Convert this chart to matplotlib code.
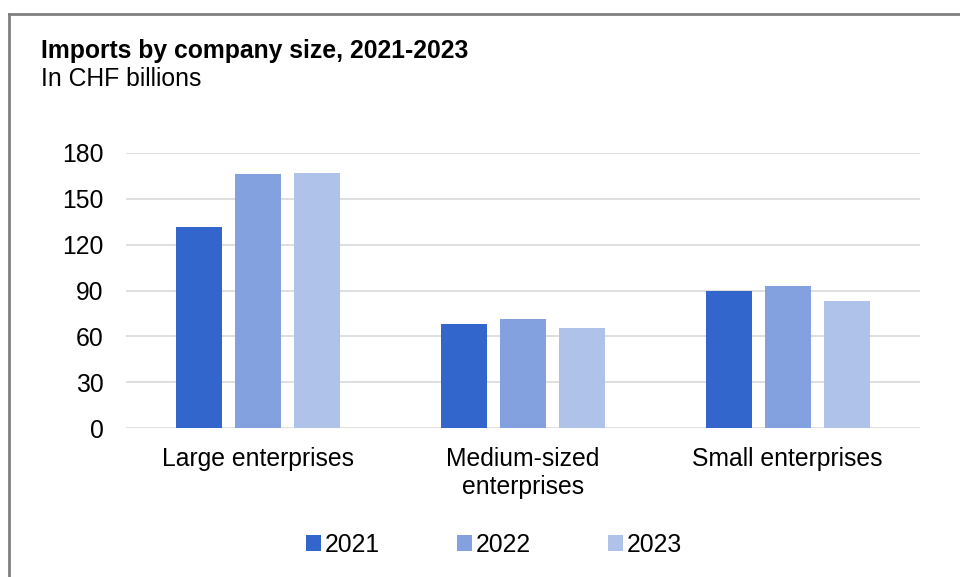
import numpy as np
import matplotlib.pyplot as plt

plt.rcParams['font.family'] = ['Liberation Sans', 'DejaVu Sans']

categories = ['Large enterprises', 'Medium-sized\nenterprises', 'Small enterprises']
years = ['2021', '2022', '2023']
imports_2021 = [131.5, 68.0, 89.7]
imports_2022 = [166.2, 71.3, 93.1]
imports_2023 = [166.6, 65.2, 82.9]
yticks = [0, 30, 60, 90, 120, 150, 180]

colors = ['#3366cc', '#82a1de', '#afc3ea']
fs = 17.8

fig = plt.figure(figsize=(9.6, 5.77), dpi=100)
ax = fig.add_axes([126 / 960, 1 - 428 / 577, 794 / 960, 275 / 577])

x = np.arange(len(categories))
pitch = 0.2226
width = 0.174
series = [imports_2021, imports_2022, imports_2023]
for i, (vals, year) in enumerate(zip(series, years)):
    ax.bar(x + (i - 1) * pitch, vals, width=width, color=colors[i], label=year, zorder=3)

ax.set_xlim(-0.5, 2.5)
ax.set_ylim(0, 180)
ax.set_yticks(yticks)
ax.set_yticklabels([str(t) for t in yticks], fontsize=fs)
ax.set_xticks(x)
ax.set_xticklabels(categories, fontsize=fs, linespacing=1.2, va='top')
ax.tick_params(axis='both', length=0, colors='#000000')
ax.tick_params(axis='y', pad=16)
ax.tick_params(axis='x', pad=14)
ax.grid(axis='y', color='#d9d9d9', linewidth=1.2, zorder=0)
for s in ax.spines.values():
    s.set_visible(False)
ax.set_axisbelow(True)

fig.text(41 / 960, 1 - 51 / 577, 'Imports by company size, 2021-2023', fontsize=fs,
         fontweight='bold', va='center', ha='left')
fig.text(41 / 960, 1 - 79 / 577, 'In CHF billions', fontsize=fs, va='center', ha='left')

leg = fig.legend(loc='center', bbox_to_anchor=(494 / 960, 1 - 545 / 577), ncol=3,
                 frameon=False, fontsize=fs, handlelength=0.6, handleheight=0.6,
                 handletextpad=0.15, columnspacing=3.12)

# outer frame (left and top edges visible)
fig.add_artist(plt.Line2D([9 / 960, 9 / 960], [0, 1 - 14 / 577], transform=fig.transFigure,
                          color='#808080', linewidth=2))
fig.add_artist(plt.Line2D([9 / 960, 1], [1 - 14 / 577, 1 - 14 / 577], transform=fig.transFigure,
                          color='#808080', linewidth=2))

fig.savefig('out.png', dpi=100)
